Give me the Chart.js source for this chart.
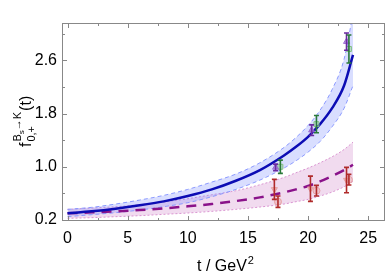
<!DOCTYPE html>
<html>
<head>
<meta charset="utf-8">
<script src="https://cdn.jsdelivr.net/npm/chart.js@4.4.1/dist/chart.umd.min.js"></script>
<style>
  html, body { margin: 0; padding: 0; background: #fff; }
</style>
</head>
<body>
<canvas id="chart" width="390" height="277"></canvas>
<script>
// t grid (GeV^2) the curves are read at
const tGrid = [0, 2, 4, 6, 8, 10, 12, 14, 16, 18, 19, 20, 21, 22, 23, 23.74];

// f+ fit (blue solid) and its band
const fPlus   = [0.30, 0.33, 0.37, 0.42, 0.48, 0.56, 0.66, 0.79, 0.95, 1.17, 1.30, 1.45, 1.64, 1.88, 2.22, 2.68];
const fPlusHi = [0.36, 0.39, 0.44, 0.50, 0.57, 0.66, 0.77, 0.89, 1.06, 1.29, 1.44, 1.62, 1.85, 2.16, 2.62, 3.30];
const fPlusLo = [0.25, 0.28, 0.31, 0.35, 0.40, 0.46, 0.55, 0.66, 0.80, 0.98, 1.09, 1.22, 1.38, 1.60, 1.88, 2.22];

// f0 fit (purple dashed) and its band
const fZero   = [0.30, 0.315, 0.33, 0.35, 0.375, 0.405, 0.44, 0.485, 0.54, 0.615, 0.66, 0.71, 0.78, 0.86, 0.95, 1.03];
const fZeroHi = [0.36, 0.38, 0.40, 0.43, 0.47, 0.52, 0.58, 0.64, 0.73, 0.84, 0.91, 0.98, 1.06, 1.15, 1.26, 1.37];
const fZeroLo = [0.225, 0.235, 0.25, 0.265, 0.285, 0.305, 0.33, 0.36, 0.395, 0.44, 0.475, 0.51, 0.56, 0.62, 0.70, 0.78];

// lattice points: t, value, error
const purpleT = [17.3, 20.3, 23.2];
const purpleV = [0.99, 1.55, 2.88];
const purpleE = [0.05, 0.08, 0.13];

const greenT = [17.7, 20.7, 23.4];
const greenV = [1.00, 1.64, 2.77];
const greenE = [0.10, 0.13, 0.21];

const redTriT = [17.2, 20.2, 23.2];
const redTriV = [0.66, 0.67, 0.80];
const redTriE = [0.15, 0.19, 0.19];

const redCircT = [17.5, 20.7, 23.4];
const redCircV = [0.475, 0.64, 0.805];
const redCircE = [0.085, 0.08, 0.08];

// ticks
const xMajor = [0, 5, 10, 15, 20, 25];
const xMinor = [2.5, 7.5, 12.5, 17.5, 22.5];
const yMajor = [0.2, 1.0, 1.8, 2.6];
const yMinor = [0.6, 1.4, 2.2, 3.0];

const FONT = '"Liberation Sans", Arial, sans-serif';

const pts = (xs, ys) => xs.map((x, i) => ({x: x, y: ys[i]}));
const errPts = (xs, ys, es) => xs.map((x, i) => ({x: x, y: ys[i], e: es[i]}));

const errorBars = {
    id: 'errorBars',
    afterDatasetsDraw(chart) {
        const ctx = chart.ctx;
        const xs = chart.scales.x, ys = chart.scales.y;
        ctx.save();
        chart.data.datasets.forEach((ds) => {
            if (!ds.errColor) return;
            ctx.strokeStyle = ds.errColor;
            ctx.lineWidth = 1.6;
            ds.data.forEach((p) => {
                const px = xs.getPixelForValue(p.x);
                const top = ys.getPixelForValue(p.y + p.e);
                const bot = ys.getPixelForValue(p.y - p.e);
                ctx.beginPath();
                ctx.moveTo(px, top); ctx.lineTo(px, bot);
                ctx.moveTo(px - 2.5, top); ctx.lineTo(px + 2.5, top);
                ctx.moveTo(px - 2.5, bot); ctx.lineTo(px + 2.5, bot);
                ctx.stroke();
            });
        });
        ctx.restore();
    }
};

const frame = {
    id: 'frame',
    afterDraw(chart) {
        const ctx = chart.ctx, a = chart.chartArea;
        const xs = chart.scales.x, ys = chart.scales.y;
        ctx.save();
        ctx.strokeStyle = '#888';
        ctx.lineWidth = 1;
        ctx.strokeRect(a.left + 0.5, a.top + 0.5, a.right - a.left - 1, a.bottom - a.top - 1);
        ctx.beginPath();
        const xt = (v, len) => {
            const px = Math.round(xs.getPixelForValue(v)) + 0.5;
            ctx.moveTo(px, a.bottom); ctx.lineTo(px, a.bottom - len);
            ctx.moveTo(px, a.top); ctx.lineTo(px, a.top + len);
        };
        const yt = (v, len) => {
            const py = Math.round(ys.getPixelForValue(v)) + 0.5;
            ctx.moveTo(a.left, py); ctx.lineTo(a.left + len, py);
            ctx.moveTo(a.right, py); ctx.lineTo(a.right - len, py);
        };
        xMajor.forEach(v => xt(v, 5));
        xMinor.forEach(v => xt(v, 3));
        yMajor.forEach(v => yt(v, 5));
        yMinor.forEach(v => yt(v, 3));
        ctx.stroke();

        // axis titles
        ctx.fillStyle = '#000';
        ctx.textBaseline = 'alphabetic';
        ctx.font = '16px ' + FONT;
        const main = 't / GeV';
        const mw = ctx.measureText(main).width;
        ctx.font = '11px ' + FONT;
        const sw = ctx.measureText('2').width;
        let x0 = (a.left + a.right) / 2 + 2 - (mw + sw + 1) / 2;
        ctx.font = '16px ' + FONT;
        ctx.fillText(main, x0, 271);
        ctx.font = '11px ' + FONT;
        ctx.fillText('2', x0 + mw + 1, 264);

        // y title, rotated
        ctx.translate(31, (a.top + a.bottom) / 2 + 25);
        ctx.rotate(-Math.PI / 2);
        let x = 0;
        ctx.font = '16px ' + FONT;
        ctx.fillText('f', 0, 0);
        x += ctx.measureText('f').width + 1;
        ctx.font = '11px ' + FONT;
        ctx.fillText('0,+', x, 4);
        const subW = ctx.measureText('0,+').width;
        ctx.fillText('B', x, -10);
        let sx = x + ctx.measureText('B').width;
        ctx.font = '8px ' + FONT;
        ctx.fillText('s', sx, -7);
        sx += ctx.measureText('s').width;
        ctx.font = '11px ' + FONT;
        ctx.fillText('\u2192K', sx, -10);
        sx += ctx.measureText('\u2192K').width;
        x = Math.max(x + subW, sx) + 1;
        ctx.font = '16px ' + FONT;
        ctx.fillText('(t)', x, 0);
        ctx.restore();
    }
};

const line = (data, color, width, dash, order, fill, bg) => ({
    type: 'line',
    data: data,
    borderColor: color,
    borderWidth: width,
    borderDash: dash,
    pointRadius: 0,
    cubicInterpolationMode: 'monotone',
    fill: fill,
    backgroundColor: bg,
    order: order
});

const scatter = (data, style, rot, fillC, edgeC, errC) => ({
    type: 'scatter',
    data: data,
    pointStyle: style,
    rotation: rot,
    pointRadius: 3.5,
    pointBackgroundColor: fillC,
    pointBorderColor: edgeC,
    pointBorderWidth: 1,
    errColor: errC,
    order: 0
});

const ctx = document.getElementById('chart').getContext('2d');
new Chart(ctx, {
    data: {
        datasets: [
            line(pts(tGrid, fPlusLo), 'rgba(130,145,255,0.9)', 1, [4, 3], 3, false),
            line(pts(tGrid, fPlusHi), 'rgba(130,145,255,0.9)', 1, [4, 3], 3, '-1', 'rgba(120,135,255,0.28)'),
            line(pts(tGrid, fZeroLo), 'rgba(215,140,205,0.9)', 1, [2, 2], 3, false),
            line(pts(tGrid, fZeroHi), 'rgba(215,140,205,0.9)', 1, [2, 2], 3, '-1', 'rgba(200,110,190,0.25)'),
            line(pts(tGrid, fPlus), '#0c0cb4', 2.5, [], 1, false),
            line(pts(tGrid, fZero), '#8a128a', 2.5, [10, 7], 1, false),
            scatter(errPts(redTriT, redTriV, redTriE), 'triangle', 180, 'rgba(230,160,160,0.6)', '#e6a0a0', '#b02a2a'),
            scatter(errPts(redCircT, redCircV, redCircE), 'circle', 0, 'rgba(230,160,160,0.4)', '#e6a0a0', '#b02a2a'),
            scatter(errPts(purpleT, purpleV, purpleE), 'triangle', 0, 'rgba(150,110,210,0.7)', '#9a6ad0', '#6a2aa0'),
            scatter(errPts(greenT, greenV, greenE), 'rect', 0, 'rgba(150,210,150,0.4)', '#80c080', '#2a7a3a')
        ]
    },
    options: {
        responsive: false,
        devicePixelRatio: 1,
        animation: false,
        layout: {padding: {top: 23, right: 3, left: 0, bottom: 0}},
        plugins: {legend: {display: false}, tooltip: {enabled: false}},
        scales: {
            x: {
                type: 'linear',
                min: -0.46,
                max: 26.4,
                grid: {display: false, drawTicks: false},
                border: {display: false},
                afterBuildTicks: (s) => { s.ticks = xMajor.map(v => ({value: v})); },
                afterFit: (s) => { s.height = 56; },
                ticks: {autoSkip: false, maxRotation: 0, padding: 8, color: '#000',
                        font: {family: FONT, size: 16}, callback: (v) => String(v)}
            },
            y: {
                type: 'linear',
                min: 0.185,
                max: 3.16,
                grid: {display: false, drawTicks: false},
                border: {display: false},
                afterBuildTicks: (s) => { s.ticks = yMajor.map(v => ({value: v})); },
                afterFit: (s) => { s.width = 62; },
                ticks: {autoSkip: false, padding: 5, color: '#000',
                        font: {family: FONT, size: 16}, callback: (v) => v.toFixed(1)}
            }
        }
    },
    plugins: [errorBars, frame]
});
</script>
</body>
</html>
